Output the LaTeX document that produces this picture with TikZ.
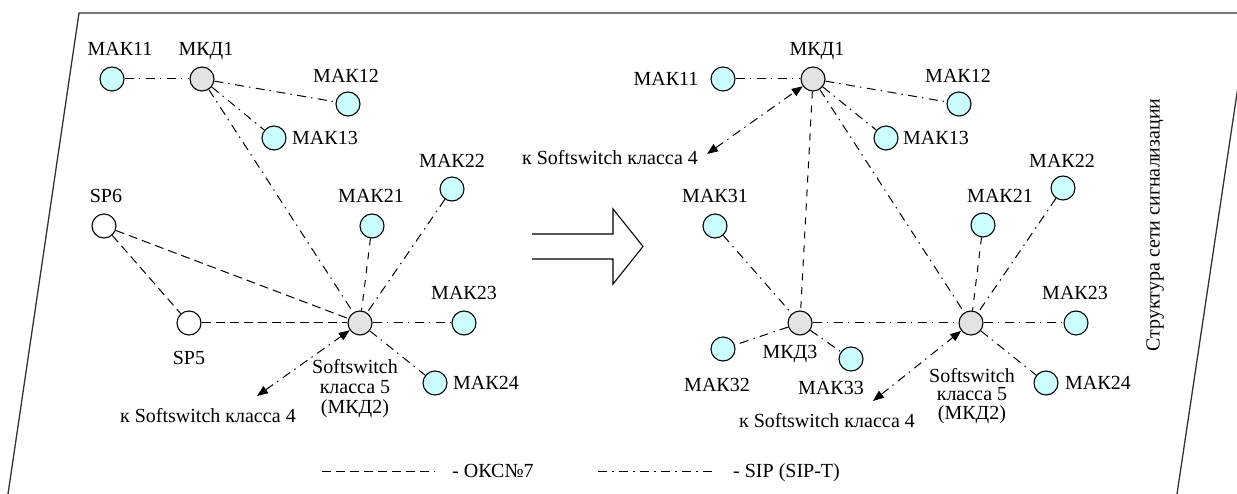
\documentclass[tikz,border=0pt]{standalone}
\usepackage{fontspec}
\setmainfont{Liberation Serif}
\usetikzlibrary{arrows.meta}
\definecolor{makfill}{HTML}{CCFFFF}
\definecolor{mkdfill}{HTML}{E3E3E3}
\definecolor{framegray}{HTML}{333333}
\begin{document}
\begin{tikzpicture}[x=1pt,y=-1pt,
  every node/.style={font=\fontsize{20}{20}\selectfont},
  stn/.style={circle, draw, line width=1.1pt, minimum size=24pt, inner sep=0pt},
  mak/.style={stn, fill=makfill},
  mkd/.style={stn, fill=mkdfill},
  spn/.style={stn, fill=white},
  lbl/.style={inner sep=0pt, text depth=0pt},
  sip/.style={line width=1pt, dash pattern=on 9pt off 5pt on 1.5pt off 5.5pt},
  sipv/.style={line width=1pt, dash pattern=on 7pt off 7pt},
  oks/.style={line width=1pt, dash pattern=on 9pt off 5pt},
  link/.style={sip, arrows={Triangle[length=11pt,width=8.5pt]-Triangle[length=11pt,width=8.5pt]}}
]
\useasboundingbox (0,0) rectangle (1237,494);
\clip (0,0) rectangle (1237,494);

% frame of the signalling network area
\draw[framegray, line width=1.3pt] (8,494) -- (79,13) -- (1249,13) -- (1177,494);

% ---------- before: single class-5 softswitch ----------
\node[mak] (mak11a) at (112,79) {};
\node[mkd] (mkd1a)  at (202,79) {};
\node[mak] (mak12a) at (348,104) {};
\node[mak] (mak13a) at (274,138) {};
\node[mak] (mak22a) at (452,189) {};
\node[mak] (mak21a) at (372,226) {};
\node[spn] (sp6)    at (104,226) {};
\node[spn] (sp5)    at (189,323) {};
\node[mkd] (mkd2a)  at (360,323) {};
\node[mak] (mak23a) at (464,323) {};
\node[mak] (mak24a) at (435,383) {};

\node[lbl] (t-mak11a) at (120,49) {МАК11};
\node[lbl] (t-mkd1a)  at (206,49) {МКД1};
\node[lbl] (t-mak12a) at (346,76) {МАК12};
\node[lbl, anchor=west] (t-mak13a) at (292,138) {МАК13};
\node[lbl] (t-mak22a) at (452,161) {МАК22};
\node[lbl] (t-mak21a) at (371,196) {МАК21};
\node[lbl] (t-sp6)    at (106,196) {SP6};
\node[lbl] (t-sp5)    at (189,358) {SP5};
\node[lbl] (t-mak23a) at (464,293) {МАК23};
\node[lbl, anchor=west] (t-mak24a) at (453,383) {МАК24};
\node[inner sep=0pt, align=center, font=\fontsize{20}{20}\selectfont] (t-ssa) at (355,389) {Softswitch\\класса 5\\(МКД2)};
\node[lbl] (t-k4a) at (208,415) {к Softswitch класса 4};
\coordinate (k4a) at (257,396);

\draw[sip] (mak11a) -- (mkd1a);
\draw[sip] (mkd1a) -- (mak12a);
\draw[sip] (mkd1a) -- (mak13a);
\draw[sip] (mkd1a) -- (mkd2a);
\draw[sipv] (mak21a) -- (mkd2a);
\draw[sip] (mak22a) -- (mkd2a);
\draw[sip] (mkd2a) -- (mak23a);
\draw[sip] (mkd2a) -- (mak24a);
\draw[oks] (sp6) -- (mkd2a);
\draw[oks] (sp6) -- (sp5);
\draw[oks] (sp5) -- (mkd2a);
\draw[link] (k4a) -- (mkd2a);

% ---------- transition arrow ----------
\draw[line width=1.1pt] (532,234) -- (613,234) -- (613,209) -- (643,246.5)
  -- (613,284) -- (613,259) -- (532,259);

% ---------- after: distributed softswitches ----------
\node[mak] (mak11b) at (723,79) {};
\node[mkd] (mkd1b)  at (813,79) {};
\node[mak] (mak12b) at (959,104) {};
\node[mak] (mak13b) at (886,138) {};
\node[mak] (mak31)  at (715,226) {};
\node[mak] (mak21b) at (983,225) {};
\node[mak] (mak22b) at (1063,188) {};
\node[mkd] (mkd3)   at (800,323) {};
\node[mkd] (mkd2b)  at (971,323) {};
\node[mak] (mak23b) at (1076,323) {};
\node[mak] (mak24b) at (1046,383) {};
\node[mak] (mak32)  at (723,349) {};
\node[mak] (mak33)  at (851,359) {};

\node[lbl] (t-mak11b) at (666,79) {МАК11};
\node[lbl] (t-mkd1b)  at (817,49) {МКД1};
\node[lbl] (t-mak12b) at (958,76) {МАК12};
\node[lbl, anchor=west] (t-mak13b) at (903,138) {МАК13};
\node[lbl] (t-k4b) at (610,157) {к Softswitch класса 4};
\coordinate (k4b) at (707,154);
\node[lbl] (t-mak31)  at (715,196) {МАК31};
\node[lbl] (t-mak21b) at (1000,196) {МАК21};
\node[lbl] (t-mak22b) at (1062,161) {МАК22};
\node[lbl] (t-mak23b) at (1075,293) {МАК23};
\node[lbl, anchor=west] (t-mak24b) at (1065,383) {МАК24};
\node[lbl] (t-mkd3)   at (790,352) {МКД3};
\node[lbl] (t-mak32)  at (717,385) {МАК32};
\node[lbl] (t-mak33)  at (831,388) {МАК33};
\node[lbl] (t-k4c) at (827,420) {к Softswitch класса 4};
\coordinate (k4c) at (873,401);
\node[inner sep=0pt, align=center, font=\fontsize{20}{18.5}\selectfont] (t-ssb) at (972,396) {Softswitch\\класса 5\\(МКД2)};

\draw[sip] (mak11b) -- (mkd1b);
\draw[sip] (mkd1b) -- (mak12b);
\draw[sip] (mkd1b) -- (mak13b);
\draw[sipv] (mkd1b) -- (mkd3);
\draw[sip] (mkd1b) -- (mkd2b);
\draw[sip] (mak31) -- (mkd3);
\draw[sip] (mkd3) -- (mkd2b);
\draw[sip] (mkd3) -- (mak32);
\draw[sip] (mkd3) -- (mak33);
\draw[sipv] (mak21b) -- (mkd2b);
\draw[sip] (mak22b) -- (mkd2b);
\draw[sip] (mkd2b) -- (mak23b);
\draw[sip] (mkd2b) -- (mak24b);
\draw[link] (k4b) -- (mkd1b);
\draw[link] (k4c) -- (mkd2b);

% ---------- legend ----------
\coordinate (lg1) at (322,471);
\coordinate (lg2) at (435,471);
\coordinate (lg3) at (598,471);
\coordinate (lg4) at (712,471);
\draw[oks] (lg1) -- (lg2);
\draw[sip] (lg3) -- (lg4);
\node[lbl, anchor=west] (t-oks) at (452,471) {- ОКС№7};
\node[lbl, anchor=west] (t-sip) at (733,471) {- SIP (SIP-T)};

% ---------- caption ----------
\node[lbl, rotate=90] (t-title) at (1153,225) {Структура сети сигнализации};
\end{tikzpicture}
\end{document}
